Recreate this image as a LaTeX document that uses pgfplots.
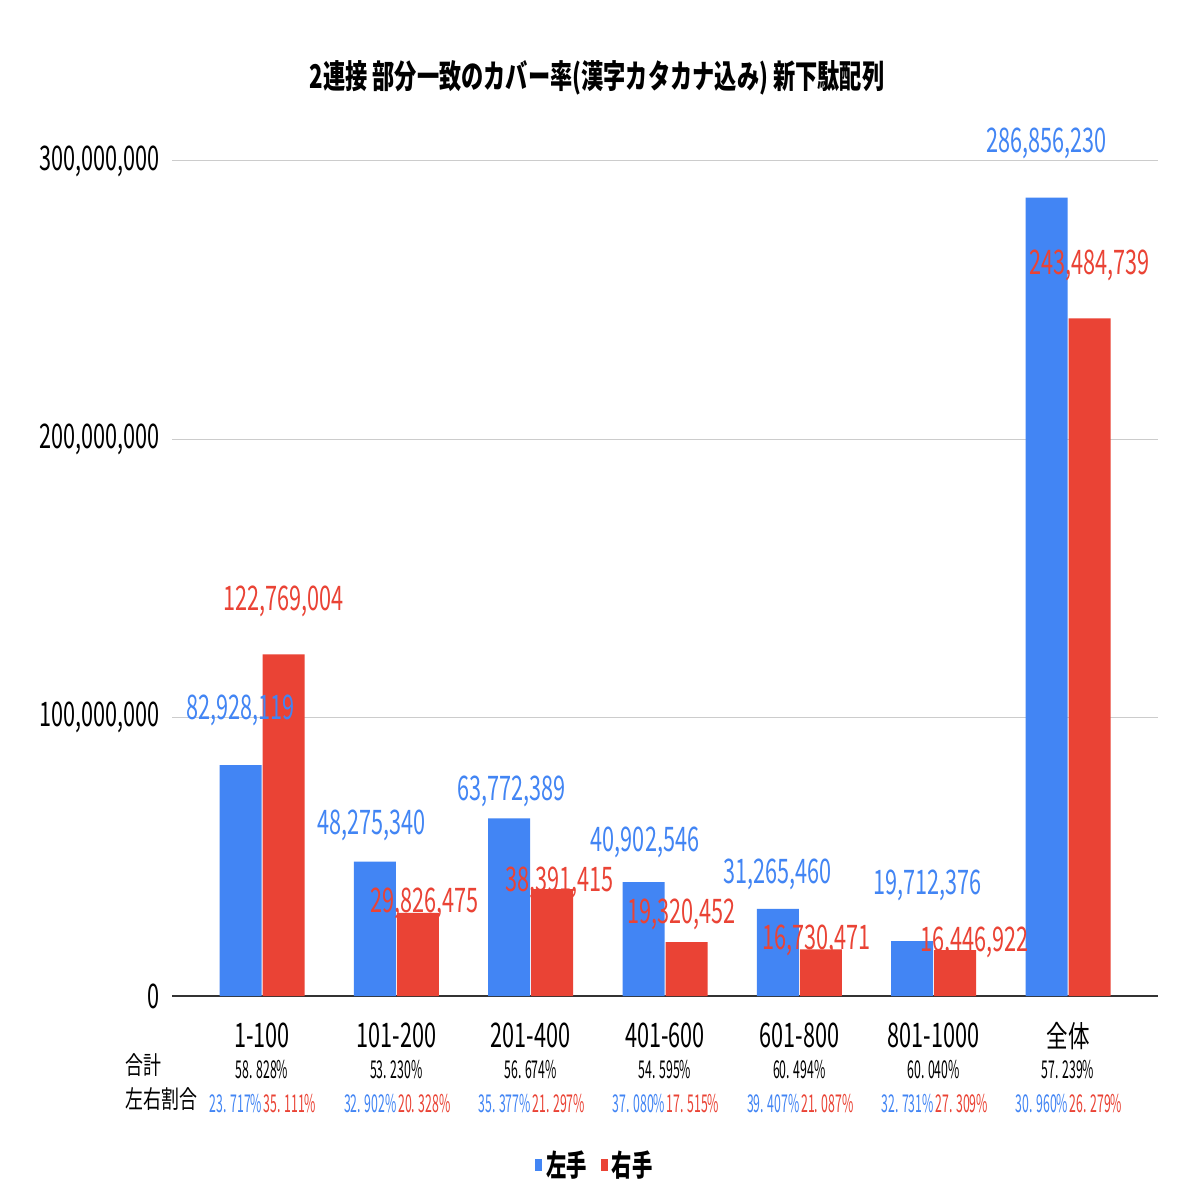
\documentclass[border=0pt]{standalone}
\usepackage{fontspec}
\setmainfont{Noto Sans CJK JP}[FakeStretch=0.72]
\newfontfamily\numfont{Noto Sans CJK JP}[FakeStretch=0.64]
\newfontfamily\pctfont{Noto Sans CJK JP}[FakeStretch=0.5]
\newfontfamily\titlefont{Noto Sans CJK JP}[FakeStretch=0.68]
\usepackage{pgfplots}
\pgfplotsset{compat=1.18}
\usepackage{pgfplotstable}
\definecolor{mblue}{HTML}{4285F4}
\definecolor{mred}{HTML}{EA4335}
\definecolor{gridc}{HTML}{CCCCCC}
\definecolor{axisc}{HTML}{333333}

\pgfplotstableread{
x y lab dx dy
0 82928119 82,928,119 0 27.5
1 48275340 48,275,340 -1.5 17.9
2 63772389 63,772,389 1 13.7
3 40902546 40,902,546 0.75 19.8
4 31265460 31,265,460 0 17.5
5 19712376 19,712,376 7.5 28
6 286856230 286,856,230 0 27
}\lefttab
\pgfplotstableread{
x y lab dx dy
0 122769004 122,769,004 0 26.5
1 29826475 29,826,475 3.25 5
2 38391415 38,391,415 3.5 3.4
3 19320452 19,320,452 -2.5 14.1
4 16730471 16,730,471 -2 4.5
5 16446922 16,446,922 9.75 4.1
6 243484739 243,484,739 0 26.5
}\righttab

\newcommand\numsize{\numfont\fontsize{17}{17}\selectfont}
\newcommand\pctsize{\pctfont\fontsize{12.3}{12.3}\selectfont}

\begin{document}
\begin{tikzpicture}
\useasboundingbox[fill=white] (0,0) rectangle (598bp,598bp);
\node[font=\titlefont\bfseries\fontsize{16.4}{16.4}\selectfont, inner sep=0pt] at (298.5bp,559bp)
  {2連接 部分一致のカバー率(漢字カタカナ込み) 新下駄配列};
\node[anchor=base west, inner sep=0pt, font=\fontsize{12.5}{12.5}\selectfont] at (62.5bp,60.5bp) {合計};
\node[anchor=base west, inner sep=0pt, font=\fontsize{12.5}{12.5}\selectfont] at (62.5bp,43.5bp) {左右割合};
\begin{axis}[
  at={(86bp,100bp)}, anchor=south west,
  scale only axis, width=493bp, height=417.5bp,
  xmin=-0.67, xmax=6.67, ymin=0, ymax=300000000,
  ybar, bar width=21bp,
  scaled y ticks=false,
  ytick={0,100000000,200000000,300000000},
  yticklabels={0,{100,000,000},{200,000,000},{300,000,000}},
  yticklabel style={font=\numsize, anchor=east, inner sep=0pt, xshift=-6bp},
  xtick={0,1,2,3,4,5,6},
  xticklabels={1-100,101-200,201-400,401-600,601-800,801-1000,{\fontsize{15}{15}\selectfont\rmfamily 全体}},
  xticklabel style={font=\numsize, anchor=base, inner sep=0pt, yshift=-25.5bp},
  ymajorgrids, grid style={gridc, line width=0.5bp},
  axis x line*=bottom, axis y line*=left,
  y axis line style={draw=none},
  x axis line style={draw=axisc, line width=0.7bp, -},
  major tick length=0pt, tick style={draw=none},
  clip=false,
  point meta=explicit symbolic,
  visualization depends on={\thisrow{dx} \as \dx},
  visualization depends on={\thisrow{dy} \as \dy},
  lab/.style={every node near coord/.append style={anchor=center, font=\numsize, inner sep=0pt, xshift=\dx*1bp, yshift=\dy*1bp}},
  legend style={at={(0.430,-0.2024)}, anchor=center, draw=none, fill=none,
    legend columns=2, inner sep=0pt,
    font=\titlefont\bfseries\fontsize{15}{15}\selectfont,
    /tikz/every even column/.append style={column sep=5bp}},
  legend image code/.code={\fill (0bp,-2.75bp) rectangle (3.5bp,2.75bp);},
]
% bars
\addplot[fill=mblue, draw=none, bar shift=-10.75bp] table[x=x, y=y, meta=lab] {\lefttab};
\addlegendentry{左手}
\addplot[fill=mred, draw=none, bar shift=10.75bp] table[x=x, y=y, meta=lab] {\righttab};
\addlegendentry{右手}
% value labels, drawn above both series of bars
\addplot[draw=none, fill=none, bar shift=-10.75bp, forget plot, lab,
  nodes near coords, every node near coord/.append style={text=mblue}]
  table[x=x, y=y, meta=lab] {\lefttab};
\addplot[draw=none, fill=none, bar shift=10.75bp, forget plot, lab,
  nodes near coords, every node near coord/.append style={text=mred}]
  table[x=x, y=y, meta=lab] {\righttab};

\newcommand\pct[4]{%
 \node[anchor=base, inner sep=0pt, font=\pctsize, yshift=-41bp] at (axis cs:#1,0) {#2};
 \node[anchor=base east, inner sep=0pt, font=\pctsize, text=mblue, yshift=-58bp, xshift=0.25bp] at (axis cs:#1,0) {#3};
 \node[anchor=base west, inner sep=0pt, font=\pctsize, text=mred, yshift=-58bp, xshift=0.75bp] at (axis cs:#1,0) {#4};}
\pct{0}{58. 828\%}{23. 717\%}{35. 111\%}
\pct{1}{53. 230\%}{32. 902\%}{20. 328\%}
\pct{2}{56. 674\%}{35. 377\%}{21. 297\%}
\pct{3}{54. 595\%}{37. 080\%}{17. 515\%}
\pct{4}{60. 494\%}{39. 407\%}{21. 087\%}
\pct{5}{60. 040\%}{32. 731\%}{27. 309\%}
\pct{6}{57. 239\%}{30. 960\%}{26. 279\%}
\end{axis}
\end{tikzpicture}
\end{document}
